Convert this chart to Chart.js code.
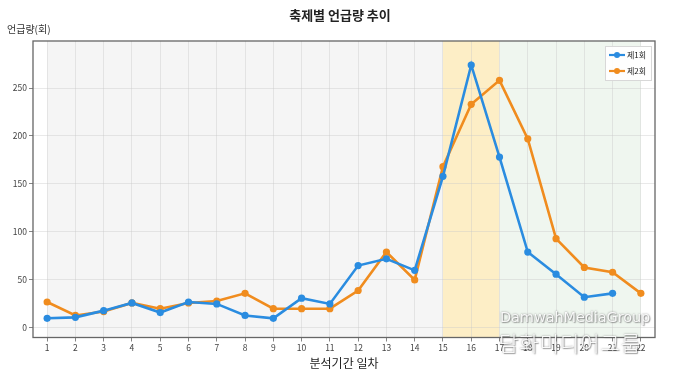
<!DOCTYPE html>
<html>
<head>
<meta charset="utf-8">
<script src="https://cdn.jsdelivr.net/npm/chart.js@4.4.0/dist/chart.umd.min.js"></script>
<style>
  html, body { margin: 0; padding: 0; background: #ffffff; }
  #wrap { position: relative; width: 680px; height: 376px; overflow: hidden; }
  #c { position: absolute; left: 0; top: 0; }
  .txt { position: absolute; font-family: "Noto Sans CJK KR", "Noto Sans", sans-serif; color: #222; white-space: nowrap; }
  #title { left: 0; width: 680px; top: 5px; text-align: center; font-size: 13px; font-weight: 700; }
  #ylab { left: 7px; top: 21px; font-size: 10px; color: #333; }
  #wm1 { left: 500px; top: 309px; font-family: "DejaVu Sans", sans-serif; font-size: 14.5px; color: rgba(255,255,255,0.92); text-shadow: 0 0 2px rgba(90,90,90,0.7), 1px 1px 1px rgba(90,90,90,0.5); letter-spacing: -0.1px; }
  #wm2 { left: 499px; top: 327px; font-size: 21px; font-weight: 300; color: rgba(255,255,255,0.92); text-shadow: 0 0 2px rgba(90,90,90,0.7), 1px 1px 1px rgba(90,90,90,0.5); letter-spacing: 1px; }
</style>
</head>
<body>
<div id="wrap">
  <canvas id="c" width="680" height="376"></canvas>
  <div class="txt" id="title">축제별 언급량 추이</div>
  <div class="txt" id="ylab">언급량(회)</div>
  <div class="txt" id="wm1">DamwahMediaGroup</div>
  <div class="txt" id="wm2">담화미디어그룹</div>
</div>
<script>
// ---- data ----
const days = [1,2,3,4,5,6,7,8,9,10,11,12,13,14,15,16,17,18,19,20,21,22];
const round1 = [10,11,18,26,16,27,25,13,10,31,25,65,72,60,158,274,178,79,56,32,36];
const round2 = [27,13,17,26,20,26,28,36,20,20,20,39,79,50,168,233,258,197,93,63,58,36];
const seriesNames = ['제1회','제2회'];
const yTicks = [0,50,100,150,200,250];
const periodStart = [1,15,17];
const periodEnd = [15,17,22];

const periodColors = ['#f5f5f5','#fdeec6','#eff6ef'];
const colors = ['#2a8ce0','#f08c1e'];

const pts = arr => arr.map((v,i) => ({x: days[i], y: v}));

const shadePlugin = {
  id: 'shade',
  beforeDraw(chart) {
    const {ctx, chartArea: a, scales: {x}} = chart;
    ctx.save();
    periodStart.forEach((s,i) => {
      const x0 = x.getPixelForValue(s), x1 = x.getPixelForValue(periodEnd[i]);
      ctx.fillStyle = periodColors[i];
      ctx.fillRect(x0, a.top, x1 - x0, a.bottom - a.top);
    });
    ctx.restore();
  },
  afterDraw(chart) {
    const {ctx, chartArea: a} = chart;
    ctx.save();
    ctx.strokeStyle = '#666';
    ctx.lineWidth = 1.3;
    ctx.strokeRect(a.left, a.top, a.right - a.left, a.bottom - a.top);
    // legend
    const bx = a.right - 50, by = a.top + 5, bw = 46, bh = 34;
    ctx.fillStyle = 'rgba(255,255,255,0.9)';
    ctx.fillRect(bx, by, bw, bh);
    ctx.strokeStyle = '#d8d8d8';
    ctx.lineWidth = 1;
    ctx.strokeRect(bx + 0.5, by + 0.5, bw, bh);
    chart.data.datasets.forEach((ds, i) => {
      const yy = by + 9 + i * 16;
      ctx.strokeStyle = ds.borderColor;
      ctx.lineWidth = 2.2;
      ctx.beginPath();
      ctx.moveTo(bx + 4, yy); ctx.lineTo(bx + 20, yy); ctx.stroke();
      ctx.fillStyle = ds.borderColor;
      ctx.beginPath(); ctx.arc(bx + 12, yy, 3, 0, Math.PI * 2); ctx.fill();
      ctx.fillStyle = '#222';
      ctx.font = '8px "Noto Sans CJK KR"';
      ctx.textBaseline = 'middle';
      ctx.fillText(ds.label, bx + 22, yy);
    });
    ctx.restore();
  }
};

new Chart(document.getElementById('c'), {
  type: 'line',
  data: {
    datasets: [round1, round2].map((d, i) => ({
      label: seriesNames[i],
      data: pts(d),
      borderColor: colors[i],
      backgroundColor: colors[i],
      borderWidth: 2.6,
      pointRadius: 3.6,
      pointBorderWidth: 0,
      pointBackgroundColor: colors[i],
      tension: 0
    }))
  },
  options: {
    responsive: false,
    devicePixelRatio: 1,
    animation: false,
    layout: { padding: { left: 0, top: 41, right: 25, bottom: 0 } },
    plugins: { legend: { display: false }, tooltip: { enabled: false }, title: { display: false } },
    scales: {
      x: {
        type: 'linear',
        min: 0.5, max: 22.5,
        afterBuildTicks: s => { s.ticks = days.map(v => ({value: v})); },
        afterFit: s => { s.height = 38.5; },
        ticks: { color: '#444', font: { size: 8.5, family: '"Noto Sans CJK KR"' }, padding: 1, maxRotation: 0, autoSkip: false, callback: v => String(v) },
        grid: { color: 'rgba(200,200,200,0.5)', tickColor: '#666', tickLength: 4, lineWidth: 0.8 },
        border: { display: false },
        title: { display: true, text: '분석기간 일차', color: '#222', font: { size: 12, family: '"Noto Sans CJK KR"' }, padding: { top: 0, bottom: 5 } }
      },
      y: {
        min: -10, max: 299,
        afterBuildTicks: s => { s.ticks = yTicks.map(v => ({value: v})); },
        afterFit: s => { s.width = 33; },
        ticks: { color: '#444', font: { size: 8.5, family: '"Noto Sans CJK KR"' }, padding: 2 },
        grid: { color: 'rgba(200,200,200,0.5)', tickColor: '#666', tickLength: 4, lineWidth: 0.8 },
        border: { display: false }
      }
    }
  },
  plugins: [shadePlugin]
});
</script>
</body>
</html>
